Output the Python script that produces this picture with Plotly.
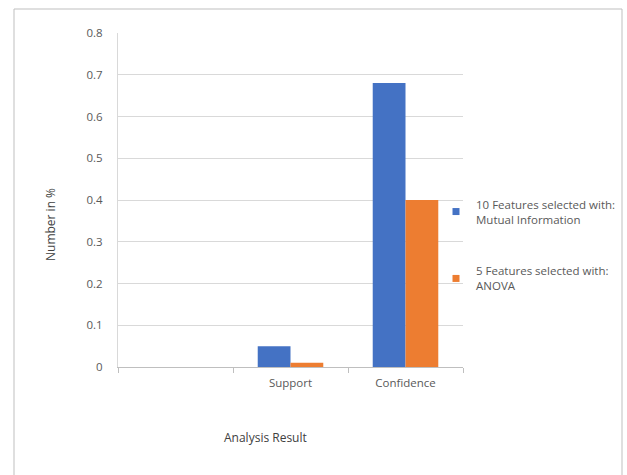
import plotly.graph_objects as go

# Analysis result categories (the first slot is left blank)
categories = [" ", "Support", "Confidence"]
mutual_info = [None, 0.05, 0.68]
anova = [None, 0.01, 0.40]
series_names = ["10 Features selected with:<br>Mutual Information",
                "5 Features selected with:<br>ANOVA"]
series_colors = ["#4472C4", "#ED7D31"]
y_ticks = [0, 0.1, 0.2, 0.3, 0.4, 0.5, 0.6, 0.7, 0.8]
y_tick_labels = ["0", "0.1", "0.2", "0.3", "0.4", "0.5", "0.6", "0.7", "0.8"]

font_family = "Open Sans, Liberation Sans, sans-serif"
text_grey = "#595959"
title_grey = "#404040"

fig = go.Figure()
for vals, name, color, grp in zip([mutual_info, anova], series_names,
                                  series_colors, ["a", "b"]):
    fig.add_trace(go.Bar(x=categories, y=vals, name=name,
                         marker=dict(color=color, line=dict(width=0)),
                         legendgroup=grp, showlegend=False))
    # small square legend key for the series
    fig.add_trace(go.Scatter(x=[None], y=[None], mode="markers", name=name,
                             marker=dict(symbol="square", size=7, color=color),
                             legendgroup=grp, showlegend=True))

W, H = 627, 475
L, R, T, B = 118, 5, 33, 108
plot_right = 463
pw_full = W - L - R          # paper width in px
ph = H - T - B
dom_right = (plot_right - L) / pw_full


def px_x(px):
    return (px - L) / pw_full


def px_y(py):
    return (H - B - py) / ph


fig.update_layout(
    width=W, height=H,
    margin=dict(l=L, r=R, t=T, b=B, autoexpand=False),
    paper_bgcolor="white", plot_bgcolor="white",
    barmode="group", bargap=0.43, bargroupgap=0,
    font=dict(family=font_family, size=11, color=text_grey),
    legend=dict(x=px_x(436), y=0.365, xanchor="left", yanchor="middle",
                traceorder="grouped", tracegroupgap=34,
                font=dict(size=11.5, color=text_grey, family=font_family),
                itemwidth=30, bgcolor="rgba(0,0,0,0)"),
    showlegend=True,
)

fig.update_xaxes(
    domain=[0, dom_right],
    type="category", categoryorder="array", categoryarray=categories,
    showline=True, linecolor="#bfbfbf", linewidth=1,
    ticks="outside", tickson="boundaries", ticklen=5, tickcolor="#bfbfbf",
    ticklabelstandoff=5,
    showgrid=False, tickfont=dict(size=11.5, color=text_grey),
)
fig.update_yaxes(
    range=[0, 0.8], tickvals=y_ticks, ticktext=y_tick_labels,
    showgrid=True, gridcolor="#d9d9d9", gridwidth=1,
    showline=True, linecolor="#d9d9d9", zeroline=False,
    ticks="", ticklabelstandoff=12, tickfont=dict(size=11.5, color=text_grey),
)

# Axis titles
fig.add_annotation(text="Analysis Result", xref="paper", yref="paper",
                   x=px_x(265), y=px_y(437), showarrow=False,
                   xanchor="center", yanchor="middle",
                   font=dict(size=12, color=title_grey, family=font_family))
fig.add_annotation(text="Number in %", xref="paper", yref="paper",
                   x=px_x(50), y=px_y(225), showarrow=False, textangle=-90,
                   xanchor="center", yanchor="middle",
                   font=dict(size=12, color=title_grey, family=font_family))

# Outer chart-area border
fig.add_shape(type="rect", xref="paper", yref="paper",
              x0=px_x(14), x1=px_x(622),
              y0=px_y(480), y1=px_y(9),
              line=dict(color="#bfbfbf", width=1), fillcolor="rgba(0,0,0,0)",
              layer="below")

fig.write_html("out.html")
